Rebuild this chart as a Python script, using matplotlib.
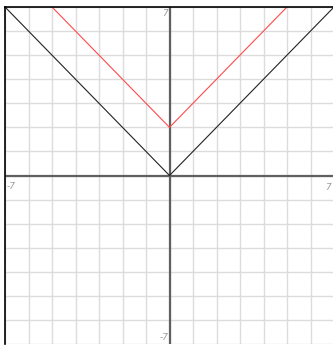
import matplotlib
matplotlib.use('Agg')
import matplotlib.pyplot as plt

# y = |x| and y = |x| + 2, read at the corners
x_abs = [-7, 0, 7]
y_abs = [7, 0, 7]
x_shift = [-5, 0, 5]
y_shift = [7, 2, 7]

lim = 7
grid_ticks = list(range(-lim, lim + 1))

fig = plt.figure(figsize=(3.33, 3.45), dpi=100)
ax = fig.add_axes([5 / 333, 1 / 345, 329 / 333, 337 / 345])
ax.set_xlim(-lim, lim)
ax.set_ylim(-lim, lim)

ax.set_xticks(grid_ticks)
ax.set_yticks(grid_ticks)
ax.grid(True, color='#dcdcdc', linewidth=1.0)
ax.tick_params(length=0, labelbottom=False, labelleft=False)
ax.set_axisbelow(True)

for side in ['right', 'bottom']:
    ax.spines[side].set_visible(False)
for side in ['top', 'left']:
    ax.spines[side].set_color('black')
    ax.spines[side].set_linewidth(1.2)

ax.axhline(0, color='#606060', linewidth=1.6)
ax.axvline(0, color='#606060', linewidth=1.6)

ax.plot(x_abs, y_abs, color='#222222', linewidth=0.8)
ax.plot(x_shift, y_shift, color='#ff4a4a', linewidth=0.8)

lab = dict(color='#999999', fontsize=6.5, style='italic')
ax.text(-lim + 0.05, -0.25, '-7', ha='left', va='top', **lab)
ax.text(lim - 0.15, -0.3, '7', ha='right', va='top', **lab)
ax.text(-0.05, lim - 0.1, '7', ha='right', va='top', **lab)
ax.text(-0.05, -lim + 0.1, '-7', ha='right', va='bottom', **lab)

fig.savefig('out.png', dpi=100)
